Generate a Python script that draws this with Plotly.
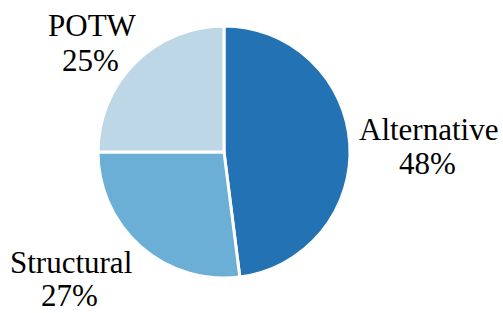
import plotly.graph_objects as go

labels = ["Alternative", "Structural", "POTW"]
values = [48, 27, 25]
colors = ["#2272B4", "#6BAED6", "#BDD7E7"]

W, H = 503, 313

# label layout (pixel centres of the two text lines for each slice label)
label_pos = {
    "Alternative": ((428, 129), (427, 163)),
    "Structural": ((71, 262), (69, 295)),
    "POTW": ((92, 25), (90, 61)),
}

fig = go.Figure(go.Pie(
    labels=labels,
    values=values,
    sort=False,
    direction="clockwise",
    rotation=0,
    marker=dict(colors=colors, line=dict(color="white", width=3)),
    textinfo="none",
    showlegend=False,
    hoverinfo="skip",
    automargin=False,
    domain=dict(x=[(224 - 126) / W, (224 + 126) / W],
                y=[(H - 152 - 126) / H, (H - 152 + 126) / H]),
))

total = sum(values)
font = dict(family="Liberation Serif", size=31, color="black")
for lab, val in zip(labels, values):
    (x1, y1), (x2, y2) = label_pos[lab]
    pct = f"{round(100 * val / total)}%"
    for txt, (x, y) in ((lab, (x1, y1)), (pct, (x2, y2))):
        fig.add_annotation(
            text=txt, x=x / W, y=1 - y / H, xref="paper", yref="paper",
            xanchor="center", yanchor="middle", showarrow=False, font=font,
        )

fig.update_layout(
    width=W, height=H,
    margin=dict(l=0, r=0, t=0, b=0),
    paper_bgcolor="white",
    plot_bgcolor="white",
)

fig.write_html("out.html", config={"displayModeBar": False},
               post_script="document.body.style.margin='0';")
